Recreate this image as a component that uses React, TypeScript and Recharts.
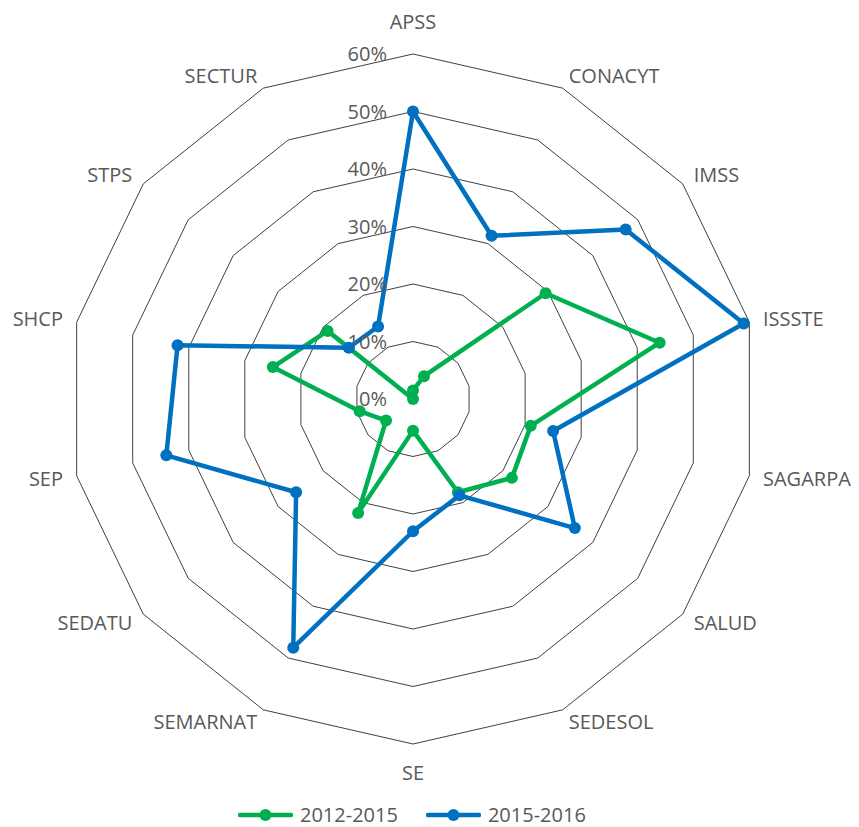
import React from 'react';
import { RadarChart, Radar, PolarGrid, PolarAngleAxis, PolarRadiusAxis, Legend } from 'recharts';

const categories = ['APSS', 'CONACYT', 'IMSS', 'ISSSTE', 'SAGARPA', 'SALUD', 'SEDESOL', 'SE', 'SEMARNAT', 'SEDATU', 'SEP', 'SHCP', 'STPS', 'SECTUR'];
const serie2012 = [1.5, 4.4, 29.5, 44, 21, 22, 18, 5.5, 22, 6, 9.5, 25, 19, 0];
const serie2015 = [50, 31.5, 47.3, 59, 25, 36, 18.6, 23, 48, 26, 44, 42, 14.3, 14];
const radiusTicks = [0, 10, 20, 30, 40, 50, 60];
const seriesNames = ['2012-2015', '2015-2016'];

const GREEN = '#00B050';
const BLUE = '#0070C0';
const TEXT = '#595959';
const FONT = '"Open Sans", sans-serif';

const data = categories.map((name, i) => ({ name, a: serie2012[i], b: serie2015[i] }));

const AngleTick = (props: any) => {
  const { x, y, payload, textAnchor } = props;
  let dy = 0;
  if (textAnchor === 'middle') dy = y < 399 ? -18 : 15;
  return (
    <text x={x} y={y + dy} dy="0.35em" textAnchor={textAnchor} fill={TEXT} fontSize={20} fontFamily={FONT}>
      {payload.value}
    </text>
  );
};

const RadiusTick = (props: any) => {
  const { x, y, payload } = props;
  return (
    <text x={x - 26} y={y} dy="0.35em" textAnchor="end" fill={TEXT} fontSize={20} fontFamily={FONT}>
      {payload.value}%
    </text>
  );
};

// dot renderer per series colour
const makeDot = (color: string) => (p: any) => (
  <circle key={`dot-${color}-${p.index}`} cx={p.cx} cy={p.cy} r={6} fill={color} stroke="none" />
);

const LegendContent = () => {
  const items = [
    { name: seriesNames[0], color: GREEN },
    { name: seriesNames[1], color: BLUE },
  ];
  return (
    <div style={{ display: 'flex', alignItems: 'center', gap: 28, height: 16 }}>
      {items.map((it) => (
        <div key={it.name} style={{ display: 'flex', alignItems: 'center', gap: 7, height: 16 }}>
          <svg width={55} height={14}>
            <line x1={2} y1={7} x2={53} y2={7} stroke={it.color} strokeWidth={4.5} strokeLinecap="round" />
            <circle cx={27.5} cy={7} r={6} fill={it.color} />
          </svg>
          <span style={{ color: TEXT, fontSize: 20, fontFamily: FONT, lineHeight: '16px' }}>{it.name}</span>
        </div>
      ))}
    </div>
  );
};

export default function App() {
  return (
    <div style={{ position: 'absolute', left: 0, top: 0 }}>
      <RadarChart
        width={859}
        height={827}
        data={data}
        cx={413}
        cy={399}
        outerRadius={345}
        margin={{ top: 0, right: 0, bottom: 0, left: 0 }}
      >
        <PolarGrid gridType="polygon" radialLines={false} stroke="#404040" strokeWidth={1} />
        <PolarAngleAxis dataKey="name" tick={AngleTick} tickSize={14} tickLine={false} axisLine={false} />
        <PolarRadiusAxis
          angle={90}
          domain={[0, 60]}
          ticks={radiusTicks}
          tick={RadiusTick}
          axisLine={false}
          tickLine={false}
        />
        <Radar
          name={seriesNames[0]}
          dataKey="a"
          stroke={GREEN}
          strokeWidth={4.5}
          strokeLinejoin="round"
          fill="none"
          fillOpacity={0}
          dot={makeDot(GREEN)}
          isAnimationActive={false}
        />
        <Radar
          name={seriesNames[1]}
          dataKey="b"
          stroke={BLUE}
          strokeWidth={4.5}
          strokeLinejoin="round"
          fill="none"
          fillOpacity={0}
          dot={makeDot(BLUE)}
          isAnimationActive={false}
        />
        <Legend
          verticalAlign="bottom"
          content={LegendContent}
          wrapperStyle={{ top: 807, bottom: undefined, left: 238, width: 'auto', height: 16 }}
        />
      </RadarChart>
    </div>
  );
}
